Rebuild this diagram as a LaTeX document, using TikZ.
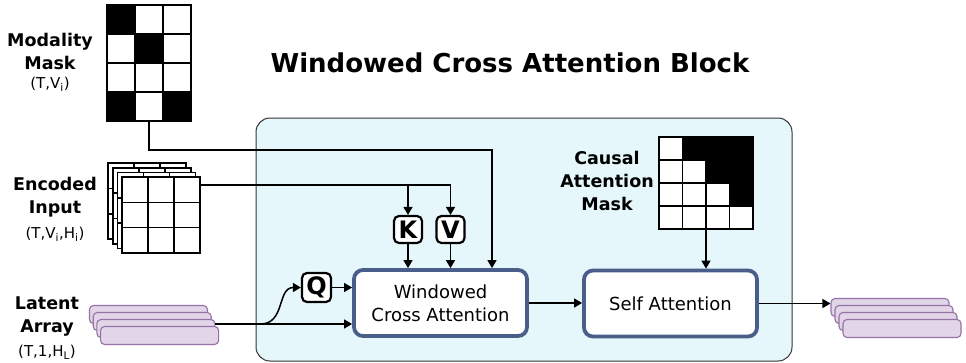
\documentclass[tikz,border=0pt]{standalone}
\usepackage{fontspec}
\setmainfont{DejaVu Sans}
\usetikzlibrary{arrows.meta,calc}
\definecolor{blockfill}{RGB}{230,247,252}
\definecolor{boxedge}{RGB}{74,94,138}
\definecolor{latfill}{RGB}{225,213,231}
\definecolor{latedge}{RGB}{150,115,166}
\begin{document}
\begin{tikzpicture}[x=1pt,y=-1pt,
  conn/.style={line width=1.5pt,-{Triangle[length=8pt,width=9pt]}},
  letterbox/.style={draw,line width=2.2pt,rounded corners=5pt,fill=white,minimum width=28pt,minimum height=27pt,inner sep=0pt,font=\bfseries\fontsize{24}{24}\selectfont},
  opbox/.style={draw=boxedge,line width=3.8pt,rounded corners=9pt,fill=white,minimum width=173pt,minimum height=66pt,align=center,font=\fontsize{18}{23}\selectfont},
  lab/.style={align=center,font=\bfseries\fontsize{17.5}{23}\selectfont},
  dim/.style={font=\fontsize{15}{16}\selectfont},
  lat/.style={draw=latedge,fill=latfill,line width=1.1pt,rounded corners=4pt,minimum width=118pt,minimum height=18pt,inner sep=0pt},
  cell/.style={line width=1.6pt},
  gridbox/.style={inner sep=0pt,outer sep=0pt}
]
\useasboundingbox (0,0) rectangle (966,362);

% outer block
\node[draw=black!80,line width=1pt,fill=blockfill,rounded corners=14pt,minimum width=536pt,minimum height=243pt] (blk) at (524,239.5) {};

% title
\node[font=\bfseries\fontsize{26}{30}\selectfont] (title) at (510,63) {Windowed Cross Attention Block};

% modality mask
\node[gridbox,minimum width=84pt,minimum height=116pt] (mm) at (149,63) {};
\fill[white] (mm.north west) rectangle (mm.south east);
\foreach \r/\c in {0/0,1/1,3/0,3/2}
  \fill ($(mm.north west)+(\c*28,\r*29)$) rectangle ++(28,29);
\draw[cell] (mm.north west) rectangle (mm.south east);
\foreach \c in {1,2} \draw[cell] ($(mm.north west)+(\c*28,0)$) -- ++(0,116);
\foreach \r in {1,2,3} \draw[cell] ($(mm.north west)+(0,\r*29)$) -- ++(84,0);
\node[lab] (mmlab) at (50,51) {Modality\\Mask};
\node[dim] (mmdim) at (50,84) {(T,V\textsubscript{i})};

% encoded input
\node[gridbox,minimum width=78pt,minimum height=76pt] (ei) at (161,215) {};
\foreach \k in {3,2,1,0} {
  \filldraw[cell,fill=white] ($(ei.north west)+(-4.6*\k,-4.6*\k)$) rectangle ++(78,76);
  \foreach \c in {1,2} \draw[cell] ($(ei.north west)+(-4.6*\k+\c*26,-4.6*\k)$) -- ++(0,76);
  \foreach \r in {1,2} \draw[cell] ($(ei.north west)+(-4.6*\k,-4.6*\k+\r*25.33)$) -- ++(78,0);
}
\node[lab] (eilab) at (55,197.5) {Encoded\\Input};
\node[dim] (eidim) at (55,234) {(T,V\textsubscript{i},H\textsubscript{i})};

% latent array
\foreach \k in {0,...,3}
  \node[lat] (la\k) at (148.5+3.7*\k,314.5+7*\k) {};
\node[lab] (lalab) at (47,317) {Latent\\Array};
\node[dim] (ladim) at (47,352) {(T,1,H\textsubscript{L})};

% causal attention mask
\node[gridbox,minimum width=94pt,minimum height=92pt] (cm) at (706,183) {};
\fill[white] (cm.north west) rectangle (cm.south east);
\foreach \r/\c in {0/1,0/2,0/3,1/2,1/3,2/3}
  \fill ($(cm.north west)+(\c*23.5,\r*23)$) rectangle ++(23.5,23);
\draw[cell] (cm.north west) rectangle (cm.south east);
\foreach \c in {1,2,3} \draw[cell] ($(cm.north west)+(\c*23.5,0)$) -- ++(0,92);
\foreach \r in {1,2,3} \draw[cell] ($(cm.north west)+(0,\r*23)$) -- ++(94,0);
\node[lab] (cmlab) at (607,181) {Causal\\Attention\\Mask};

% K V Q
\node[letterbox] (k) at (408,229.5) {K};
\node[letterbox] (v) at (450.5,229.5) {V};
\node[letterbox,minimum width=29pt,minimum height=29pt] (q) at (316.5,287.5) {Q};

% operation boxes
\node[opbox] (wca) at (440.5,303) {Windowed\\Cross Attention};
\node[opbox] (sa) at (670.5,303.5) {Self Attention};

% output latent array
\foreach \k in {0,...,3}
  \node[lat] (out\k) at (890+4*\k,307.5+7*\k) {};

% connectors
\coordinate (mmturn) at (492,150);
\draw[conn] (mm.south) |- (mmturn) -- (mmturn |- wca.north);

\coordinate (eiout) at ($(ei.north east)+(0,8)$);
\draw[conn] (eiout) -- (eiout -| v.north) -- (v.north);
\draw[conn] (k.north |- eiout) -- (k.north);
\draw[conn] (k.south) -- (k.south |- wca.north);
\draw[conn] (v.south) -- (v.south |- wca.north);

\coordinate (laout) at ($(la2.east)+(0,-4.5)$);
\draw[conn] (laout) -- (laout -| wca.west);
\draw[conn] ($(laout)+(45,0)$) .. controls ($(laout)+(70,0)$) and ($(q.west)+(-24,0)$) .. (q.west);
\draw[conn] (q.east) -- (q.east -| wca.west);

\draw[conn] (wca.east) -- (wca.east -| sa.west);
\draw[conn] (cm.south) -- (cm.south |- sa.north);
\draw[conn] (sa.east) -- (sa.east -| out0.west);
\end{tikzpicture}
\end{document}
